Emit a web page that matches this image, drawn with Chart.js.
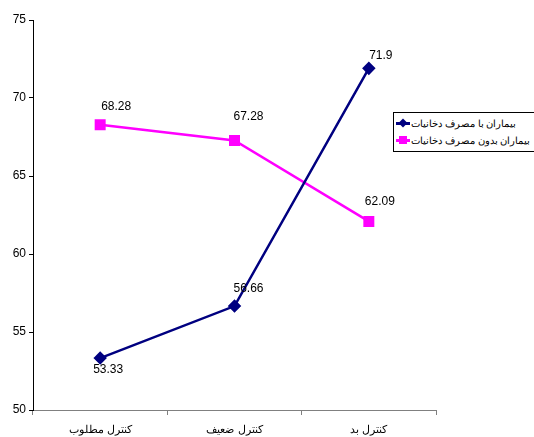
<!DOCTYPE html>
<html>
<head>
<meta charset="utf-8">
<script src="https://cdn.jsdelivr.net/npm/chart.js@4"></script>
<style>
  body { margin: 0; background: #fff; }
  #wrap { position: relative; width: 534px; height: 437px; overflow: hidden; }
  #legend {
    position: absolute; left: 393px; top: 112px; width: 150px;
    border: 1px solid #000; background: #fff;
    font: 10px "Liberation Sans", Arial, sans-serif; padding: 2px 0;
  }
  .item { display: flex; align-items: center; height: 17px; }
  .sample { position: relative; width: 14px; height: 3px; margin: 0 1px 0 2px; flex: none; }
  .mark { position: absolute; left: 3px; top: -3px; width: 8px; height: 8px; }
  .txt { direction: rtl; white-space: nowrap; }
</style>
</head>
<body>
<div id="wrap">
  <canvas id="chart" width="534" height="437"></canvas>
  <div id="legend"></div>
</div>
<script>
// chart data
const categories = ["کنترل مطلوب", "کنترل ضعیف", "کنترل بد"];
const smokers = [53.33, 56.66, 71.9];
const nonSmokers = [68.28, 67.28, 62.09];
const seriesNames = ["بیماران با مصرف دخانیات", "بیماران بدون مصرف دخانیات"];
const yTicks = [50, 55, 60, 65, 70, 75];

// where each value label sits relative to its point
const labelOffsets = [
  [[8, 12], [14, -17], [12, -13]],
  [[16, -18], [14, -24], [11, -20]]
];

const valueLabels = {
  id: 'valueLabels',
  afterDatasetsDraw(chart) {
    const ctx = chart.ctx;
    ctx.save();
    ctx.font = '12px "Liberation Sans", Arial, sans-serif';
    ctx.fillStyle = '#000';
    ctx.textAlign = 'center';
    ctx.textBaseline = 'middle';
    chart.data.datasets.forEach((ds, i) => {
      chart.getDatasetMeta(i).data.forEach((pt, j) => {
        const off = labelOffsets[i][j];
        ctx.fillText(String(ds.data[j]), pt.x + off[0], pt.y + off[1]);
      });
    });
    ctx.restore();
  }
};

const myChart = new Chart(document.getElementById('chart'), {
  type: 'line',
  data: {
    labels: categories,
    datasets: [{
      label: seriesNames[0],
      data: smokers,
      borderColor: '#000080',
      backgroundColor: '#000080',
      borderWidth: 2.5,
      pointStyle: 'rectRot',
      pointRadius: 5,
      pointHoverRadius: 5
    }, {
      label: seriesNames[1],
      data: nonSmokers,
      borderColor: '#ff00ff',
      backgroundColor: '#ff00ff',
      borderWidth: 2.5,
      pointStyle: 'rect',
      pointRadius: 6,
      pointHoverRadius: 6
    }]
  },
  options: {
    responsive: false,
    animation: false,
    layout: { padding: { top: 20, right: 98, left: 0, bottom: 0 } },
    plugins: {
      legend: { display: false },
      tooltip: { enabled: false }
    },
    scales: {
      x: {
        offset: true,
        grid: { display: true, drawOnChartArea: false, offset: true, tickLength: 5, color: '#808080' },
        border: { color: '#808080', width: 1 },
        ticks: {
          color: '#000',
          padding: 8,
          font: { family: '"Liberation Sans", Arial, sans-serif', size: 11 }
        },
        afterFit: (scale) => { scale.height = 27; }
      },
      y: {
        min: 50,
        max: 75,
        afterBuildTicks: (scale) => { scale.ticks = yTicks.map(v => ({ value: v })); },
        grid: { display: true, drawOnChartArea: false, tickLength: 4, color: '#000' },
        border: { color: '#000', width: 1 },
        ticks: {
          color: '#000',
          padding: 3,
          font: { family: '"Liberation Sans", Arial, sans-serif', size: 12 }
        },
        afterFit: (scale) => { scale.width = 33; }
      }
    }
  },
  plugins: [valueLabels]
});

// legend built from the datasets
const legend = document.getElementById('legend');
myChart.data.datasets.forEach((ds) => {
  const item = document.createElement('div');
  item.className = 'item';
  const rot = ds.pointStyle === 'rectRot' ? 'transform: rotate(45deg) scale(0.8);' : '';
  item.innerHTML = `
    <span class="sample" style="background:${ds.borderColor}">
      <span class="mark" style="background:${ds.borderColor};${rot}"></span>
    </span>
    <span class="txt">${ds.label}</span>
  `;
  legend.appendChild(item);
});
</script>
</body>
</html>
